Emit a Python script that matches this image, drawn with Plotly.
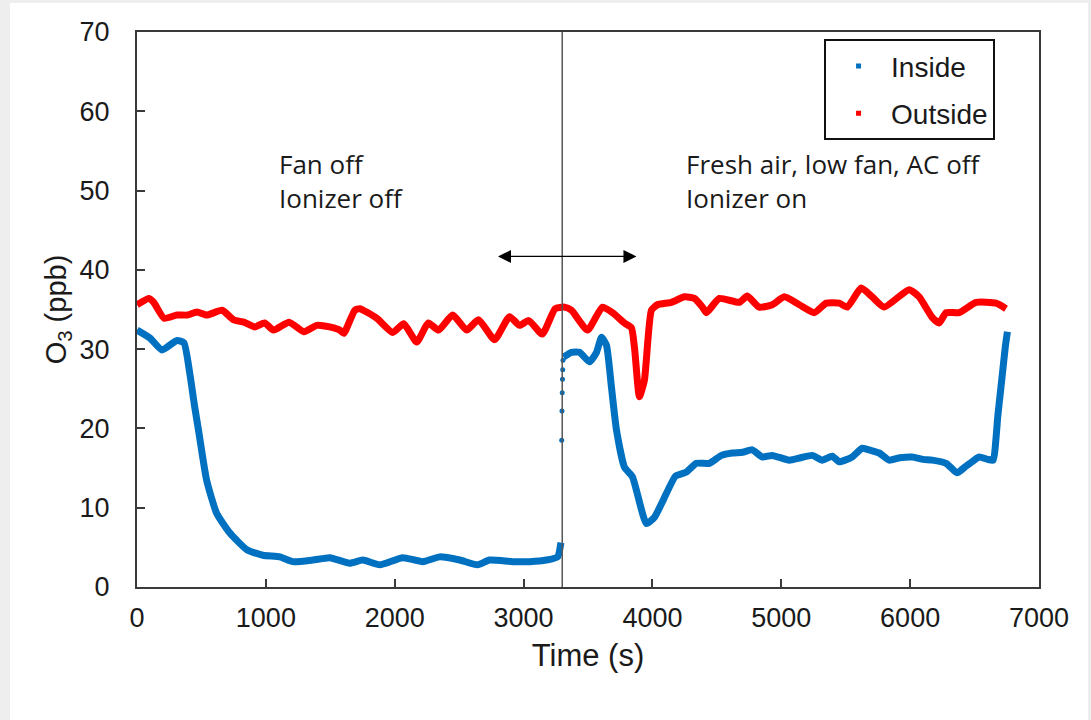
import plotly.graph_objects as go

# ---------------- data ----------------
t_out = [0, 93, 130, 210, 310, 390, 465, 543, 660, 750, 830, 915, 990, 1060, 1180, 1295, 1395,
         1495, 1574, 1605, 1690, 1729, 1860, 1985, 2070, 2171, 2260, 2340, 2450, 2558, 2650, 2775,
         2891, 2969, 3040, 3145, 3245, 3318, 3372, 3496, 3612, 3690, 3783, 3837, 3862, 3899, 3938,
         3992, 4039, 4147, 4248, 4326, 4388, 4419, 4519, 4674, 4736, 4829, 4930, 5023, 5140, 5256,
         5349, 5450, 5512, 5620, 5705, 5798, 5992, 6070, 6171, 6225, 6279, 6380, 6512, 6667, 6744]
v_out = [35.6, 36.4, 35.9, 33.9, 34.3, 34.3, 34.7, 34.3, 34.9, 33.7, 33.4, 32.8, 33.3, 32.4, 33.4,
         32.2, 33.0, 32.8, 32.4, 32.0, 34.9, 35.1, 33.9, 32.1, 33.2, 30.9, 33.3, 32.4, 34.3, 32.4,
         33.7, 31.2, 34.1, 33.0, 33.6, 31.9, 35.1, 35.3, 34.9, 32.4, 35.3, 34.6, 33.3, 32.7, 30.0,
         24.0, 26.1, 34.9, 35.6, 35.9, 36.6, 36.4, 35.3, 34.6, 36.4, 35.9, 36.7, 35.3, 35.6, 36.6,
         35.6, 34.6, 35.8, 35.8, 35.3, 37.7, 36.6, 35.3, 37.5, 36.6, 34.0, 33.3, 34.6, 34.6, 35.9,
         35.8, 35.1]

# Inside, before the ionizer is switched on
t_in_a = [0, 100, 194, 310, 364, 411, 445, 480, 540, 618, 721, 853, 977, 1109, 1209, 1364, 1496,
          1651, 1752, 1884, 2062, 2217, 2349, 2504, 2643, 2736, 2915, 3047, 3178, 3264, 3290]
v_in_a = [32.4, 31.4, 29.9, 31.1, 30.8, 26.8, 23.0, 19.5, 13.5, 9.3, 6.8, 4.7, 4.0, 3.8, 3.2, 3.4,
          3.7, 3.0, 3.4, 2.8, 3.7, 3.2, 3.8, 3.4, 2.8, 3.4, 3.2, 3.2, 3.4, 3.8, 5.6]
# Inside, rapid rise sampled at the switch
t_in_jump = [3296, 3298, 3300, 3302, 3304, 3306]
v_in_jump = [18.5, 22.2, 24.5, 26.2, 27.4, 28.6]
# Inside, after the ionizer is switched on
t_in_b = [3310, 3372, 3434, 3512, 3566, 3605, 3643, 3682, 3721, 3783, 3845, 3953, 4016, 4085,
          4180, 4264, 4341, 4442, 4535, 4620, 4700, 4775, 4853, 4930, 5062, 5150, 5240, 5318,
          5395, 5450, 5550, 5628, 5700, 5760, 5837, 5920, 6016, 6100, 6171, 6279, 6364, 6430,
          6481, 6535, 6600, 6645, 6665, 6680, 6700, 6720, 6740, 6755]
v_in_b = [29.0, 29.6, 29.6, 28.4, 29.6, 31.5, 30.5, 25.2, 19.8, 15.1, 13.9, 8.0, 8.8, 11.0,
          14.0, 14.5, 15.6, 15.6, 16.6, 16.9, 17.0, 17.3, 16.4, 16.6, 16.0, 16.3, 16.6, 16.0,
          16.5, 15.8, 16.4, 17.5, 17.2, 16.9, 16.0, 16.3, 16.4, 16.1, 16.0, 15.6, 14.4, 15.2,
          15.8, 16.4, 16.1, 16.0, 18.5, 21.5, 24.5, 27.5, 30.5, 32.2]

switch_time = 3300
arrow_from, arrow_to, arrow_level = 2790, 3876, 41.7

x_ticks = [0, 1000, 2000, 3000, 4000, 5000, 6000, 7000]
y_ticks = [0, 10, 20, 30, 40, 50, 60, 70]

BLUE = "#0070C0"
RED = "#FF0000"
AX = "#3a3a3a"
SANS = "Liberation Sans, Arial, sans-serif"
TICKFONT = dict(family=SANS, size=27, color="#1a1a1a")

fig = go.Figure()

# Outside
fig.add_trace(go.Scatter(x=t_out, y=v_out, mode="lines",
                         line=dict(color=RED, width=7, shape="spline", smoothing=0.5),
                         showlegend=False))
# Inside
fig.add_trace(go.Scatter(x=t_in_a + [None] + t_in_b, y=v_in_a + [None] + v_in_b, mode="lines",
                         line=dict(color=BLUE, width=7, shape="spline", smoothing=0.5),
                         connectgaps=False, showlegend=False))
fig.add_trace(go.Scatter(x=t_in_jump, y=v_in_jump, mode="markers",
                         marker=dict(color=BLUE, size=5), showlegend=False))

# legend entries (marker style)
fig.add_trace(go.Scatter(x=[None], y=[None], mode="markers", name="Inside", legendgroup="a",
                         marker=dict(color=BLUE, size=5, symbol="square")))
fig.add_trace(go.Scatter(x=[None], y=[None], mode="markers", name="Outside", legendgroup="b",
                         marker=dict(color=RED, size=5, symbol="square")))

# vertical switch line
fig.add_shape(type="line", x0=switch_time, x1=switch_time, y0=0, y1=70, xref="x", yref="y",
              line=dict(color="#555555", width=1.5), layer="above")

# double arrow
fig.add_annotation(x=arrow_to, y=arrow_level, ax=arrow_from, ay=arrow_level,
                   xref="x", yref="y", axref="x", ayref="y", text="", showarrow=True,
                   arrowhead=2, startarrowhead=2, arrowside="end+start", arrowsize=2,
                   startarrowsize=2, arrowwidth=1.3, arrowcolor="#000000")

ANN_FONT = dict(family="Open Sans, Noto Sans, sans-serif", size=26, color="#1a1a1a")
fig.add_annotation(x=1085, y=51.2, xref="x", yref="y", text="Fan off<br>Ionizer off",
                   showarrow=False, xanchor="left", yanchor="middle", align="left", font=ANN_FONT)
fig.add_annotation(x=4248, y=51.2, xref="x", yref="y",
                   text="Fresh air, low fan, AC off<br>Ionizer on",
                   showarrow=False, xanchor="left", yanchor="middle", align="left", font=ANN_FONT)

# white card on grey page
fig.add_shape(type="rect", xref="paper", yref="paper", x0=-0.1408, x1=1.0543, y0=-0.2396,
              y1=1.0523, fillcolor="white", line=dict(width=0), layer="below")

fig.update_xaxes(range=[0, 7000], tickvals=x_ticks, ticks="inside", ticklen=8, tickwidth=2,
                 tickcolor=AX, showline=True, linecolor=AX, linewidth=2, mirror=True,
                 showgrid=False, zeroline=False, tickfont=TICKFONT, ticklabelstandoff=6,
                 title=dict(text="Time (s)", font=dict(family=SANS, size=31, color="#1a1a1a"),
                            standoff=12))
fig.update_yaxes(range=[0, 70], tickvals=y_ticks, ticks="inside", ticklen=8, tickwidth=2,
                 tickcolor=AX, showline=True, linecolor=AX, linewidth=2, mirror=True,
                 showgrid=False, zeroline=False, tickfont=TICKFONT, ticklabelstandoff=20,
                 title=dict(text="O<sub>3</sub> (ppb)",
                            font=dict(family=SANS, size=29, color="#1a1a1a"), standoff=4))

fig.update_layout(
    width=1091, height=720,
    margin=dict(l=137, r=52, t=32, b=133),
    paper_bgcolor="#eeeeee", plot_bgcolor="white",
    legend=dict(x=0.7617, y=0.987, xanchor="left", yanchor="top", bgcolor="white",
                bordercolor="#111111", borderwidth=2, itemwidth=55, tracegroupgap=8,
                font=dict(family=SANS, size=28, color="#1a1a1a")),
)

fig.write_html("out.html")
